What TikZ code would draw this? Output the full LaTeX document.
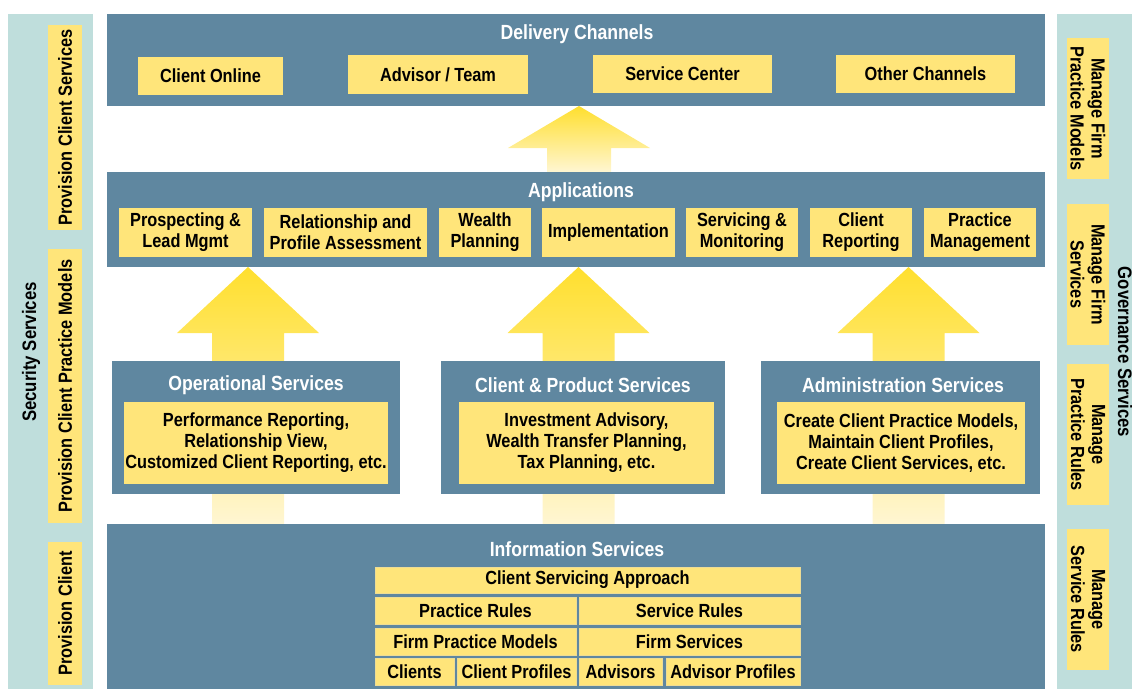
\documentclass[tikz,border=0pt]{standalone}
\usepackage{fontspec}
\setmainfont[FakeStretch=0.86]{Liberation Sans}
\usetikzlibrary{positioning}
\definecolor{bandblue}{HTML}{5F87A0}
\definecolor{sideteal}{HTML}{BFDEDC}
\definecolor{cellyellow}{HTML}{FFE57A}
\definecolor{celledge}{HTML}{EEDC94}
\definecolor{arrowtop}{HTML}{FFDF2E}
\definecolor{arrowpale}{HTML}{FFF6D2}
\tikzset{
  band/.style={fill=bandblue,inner sep=0pt},
  side/.style={fill=sideteal,inner sep=0pt},
  cell/.style={fill=cellyellow,inner sep=0pt,align=center,text=black,
    font=\bfseries\fontsize{19}{21}\selectfont},
  infocell/.style={cell,draw=celledge,line width=0.8pt},
  title/.style={text=white,inner sep=0pt,font=\bfseries\fontsize{20.5}{22}\selectfont},
  sidetitle/.style={text=black,inner sep=0pt,font=\bfseries\fontsize{19.5}{21}\selectfont}
}
\begin{document}
\begin{tikzpicture}[x=1pt,y=-1pt]
\useasboundingbox (0,0) rectangle (1132,689);
\node[side,minimum width=85,minimum height=675] (security) at (50.5,351.5) {};
\node[side,minimum width=75,minimum height=675] (governance) at (1094.5,351.5) {};
\node[sidetitle,rotate=90] (securitytitle) at (31,352) {Security Services};
\node[sidetitle,rotate=-90] (governancetitle) at (1125,352) {Governance Services};
\node[cell,rotate=90,minimum width=205,minimum height=34] (provservices) at (65,127.5) {Provision Client Services};
\node[cell,rotate=90,minimum width=274,minimum height=34] (provmodels) at (65,386) {Provision Client Practice Models};
\node[cell,rotate=90,minimum width=143,minimum height=34] (provclient) at (65,613.5) {Provision Client};
\node[cell,rotate=-90,minimum width=141,minimum height=42] (firmmodels) at (1088,108.5) {Manage Firm\\Practice Models};
\node[cell,rotate=-90,minimum width=141,minimum height=42] (firmservices) at (1088,274.5) {Manage Firm\\Services};
\node[cell,rotate=-90,minimum width=141,minimum height=42] (practicerules) at (1088,434.5) {Manage\\Practice Rules};
\node[cell,rotate=-90,minimum width=141,minimum height=42] (servicerules) at (1088,599.5) {Manage\\Service Rules};
\shade[top color=arrowtop,bottom color=arrowpale] (579,106) -- (650,148) -- (611,148) -- (611,172)
    -- (547,172) -- (547,148) -- (508,148) -- cycle;
\foreach \cx in {248,578.5,908.5}
  \shade[top color=arrowtop,bottom color=arrowpale] (\cx,267) -- ({\cx+71},333) -- ({\cx+36},333)
    -- ({\cx+36},524) -- ({\cx-36},524) -- ({\cx-36},333) -- ({\cx-71},333) -- cycle;
\node[band,minimum width=938,minimum height=92] (delivery) at (576,60) {};
\node[title] (deliverytitle) at (577,34.5) {Delivery Channels};
\node[cell,minimum width=145,minimum height=38] (clientonline) at (210.5,76) {Client Online};
\node[cell,minimum width=180,minimum height=39] (advisorteam) at (438,74.5) {Advisor / Team};
\node[cell,minimum width=179,minimum height=38] (servicecenter) at (682.5,74) {Service Center};
\node[cell,minimum width=179,minimum height=38] (otherchannels) at (925.5,74) {Other Channels};
\node[band,minimum width=938,minimum height=95] (applications) at (576,219.5) {};
\node[title] (applicationstitle) at (581,192) {Applications};
\node[cell,minimum width=133,minimum height=49] (prospecting) at (185.5,232.5) {Prospecting \&\\Lead Mgmt};
\node[cell,minimum width=163,minimum height=49] (relationship) at (345.5,232.5) {Relationship and\\Profile Assessment};
\node[cell,minimum width=92,minimum height=49] (wealth) at (485,232.5) {Wealth\\Planning};
\node[cell,minimum width=133,minimum height=49] (implementation) at (608.5,232.5) {Implementation};
\node[cell,minimum width=112,minimum height=49] (servicing) at (742,232.5) {Servicing \&\\Monitoring};
\node[cell,minimum width=102,minimum height=49] (reporting) at (861,232.5) {Client\\Reporting};
\node[cell,minimum width=112,minimum height=49] (practicemgmt) at (980,232.5) {Practice\\Management};
\node[band,minimum width=288,minimum height=133] (operational) at (256,427.5) {};
\node[title] (operationaltitle) at (256,385) {Operational Services};
\node[cell,minimum width=264,minimum height=82] (operationalcell) at (256,443)
  {Performance Reporting,\\Relationship View,\\Customized Client Reporting, etc.};
\node[band,minimum width=284,minimum height=133] (clientproduct) at (583,427.5) {};
\node[title] (clientproducttitle) at (583,385) {Client \& Product Services};
\node[cell,minimum width=255,minimum height=82] (clientproductcell) at (586.5,443)
  {Investment Advisory,\\Wealth Transfer Planning,\\Tax Planning, etc.};
\node[band,minimum width=279,minimum height=133] (administration) at (900.5,427.5) {};
\node[title] (administrationtitle) at (903,385) {Administration Services};
\node[cell,minimum width=248,minimum height=82] (administrationcell) at (901,443)
  {Create Client Practice Models,\\Maintain Client Profiles,\\Create Client Services, etc.};
\node[band,minimum width=938,minimum height=165] (information) at (576,606.5) {};
\node[title] (informationtitle) at (577,549) {Information Services};
\node[infocell,minimum width=425,minimum height=26] (approach) at (587.5,580) {Client Servicing Approach};
\node[infocell,minimum width=201,minimum height=27] (practicerulescell) at (475.5,610.5) {Practice Rules};
\node[infocell,minimum width=221,minimum height=27] (servicerulescell) at (689.5,610.5) {Service Rules};
\node[infocell,minimum width=201,minimum height=27] (firmmodelscell) at (475.5,641.5) {Firm Practice Models};
\node[infocell,minimum width=221,minimum height=27] (firmservicescell) at (689.5,641.5) {Firm Services};
\node[infocell,minimum width=79,minimum height=27] (clients) at (414.5,671.5) {Clients};
\node[infocell,minimum width=119,minimum height=27] (clientprofiles) at (516.5,671.5) {Client Profiles};
\node[infocell,minimum width=83,minimum height=27] (advisors) at (620.5,671.5) {Advisors};
\node[infocell,minimum width=134,minimum height=27] (advisorprofiles) at (733,671.5) {Advisor Profiles};
\end{tikzpicture}
\end{document}
